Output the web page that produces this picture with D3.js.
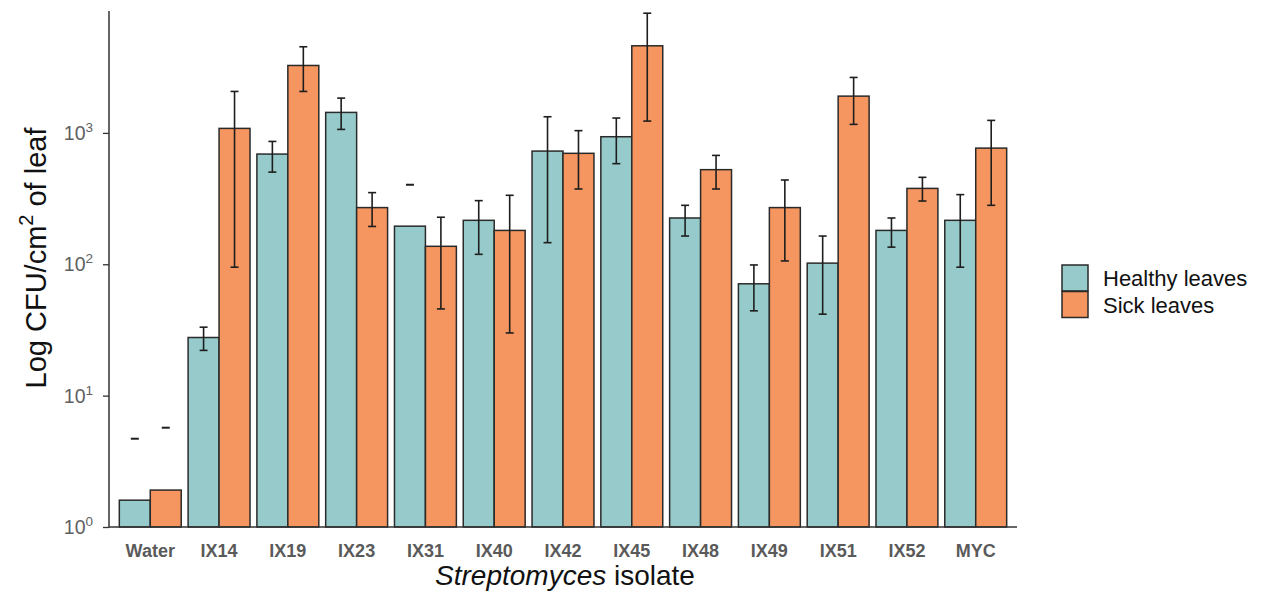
<!DOCTYPE html>
<html>
<head>
<meta charset="utf-8">
<script src="https://cdn.jsdelivr.net/npm/d3@7"></script>
<style>
  html, body { margin: 0; padding: 0; background: #fff; }
  svg { display: block; font-family: "Liberation Sans", Arial, sans-serif; }
</style>
</head>
<body>
<svg id="chart" width="1261" height="592"></svg>
<script>
const categories = ["Water","IX14","IX19","IX23","IX31","IX40","IX42","IX45","IX48","IX49","IX51","IX52","MYC"];
const seriesNames = ["Healthy leaves","Sick leaves"];
const healthy     = [1.6, 27.7, 690, 1432, 195, 216, 727, 935, 225, 71, 102, 181, 216];
const healthyLow  = [null, 22.1, 503, 1063, null, 119, 146, 583, 164, 44.2, 41.7, 135, 95];
const healthyHigh = [4.7, 33.2, 861, 1840, 403, 305, 1327, 1297, 281, 98.8, 164, 225, 339];
const sick        = [1.91, 1082, 3260, 270, 137, 181, 699, 4603, 525, 270, 1905, 378, 766];
const sickLow     = [null, 95, 2068, 194, 45.7, 30, 374, 1230, 374, 106, 1161, 303, 281];
const sickHigh    = [5.7, 2068, 4525, 351, 228, 335, 1040, 8150, 674, 438, 2643, 459, 1245];
const yTicks = [1, 10, 100, 1000];
const yTickExponents = ["0", "1", "2", "3"];

(function () {
const colors = ["#97cbcb", "#f5955f"];
const stroke = "#2a2a2a";

const svg = d3.select("#chart");
const pLeft = 109, pRight = 1017, pTop = 11, pBottom = 527;

const x = d3.scaleBand().domain(categories).range([pLeft, pRight]).paddingInner(0).paddingOuter(0.1);
const step = x.step();
const xInner = d3.scaleBand().domain(seriesNames).range([0, step * 0.9]);
const y = d3.scaleLog().domain([1, 8470]).range([pBottom, pTop]);

const rows = [];
categories.forEach((c, i) => {
  rows.push({cat: c, s: 0, v: healthy[i], lo: healthyLow[i], hi: healthyHigh[i]});
  rows.push({cat: c, s: 1, v: sick[i], lo: sickLow[i], hi: sickHigh[i]});
});
const bx = d => x(d.cat) + step * 0.05 + xInner(seriesNames[d.s]);
const bw = xInner.bandwidth();

// bars
svg.append("g").selectAll("rect").data(rows).join("rect")
  .attr("x", d => bx(d))
  .attr("y", d => y(d.v))
  .attr("width", bw)
  .attr("height", d => y(1) - y(d.v))
  .attr("fill", d => colors[d.s])
  .attr("stroke", stroke)
  .attr("stroke-width", 1.5);

// error bars
const capW = 8;
const eg = svg.append("g").attr("stroke", "#1e1e1e").attr("stroke-width", 1.6);
rows.forEach(d => {
  const cx = bx(d) + bw / 2;
  if (d.lo !== null) {
    eg.append("line").attr("x1", cx).attr("x2", cx).attr("y1", y(d.hi)).attr("y2", y(d.lo));
    eg.append("line").attr("x1", cx - capW/2).attr("x2", cx + capW/2).attr("y1", y(d.lo)).attr("y2", y(d.lo));
    eg.append("line").attr("x1", cx - capW/2).attr("x2", cx + capW/2).attr("y1", y(d.hi)).attr("y2", y(d.hi));
  } else {
    eg.append("line").attr("x1", cx - capW/2).attr("x2", cx + capW/2).attr("y1", y(d.hi)).attr("y2", y(d.hi)).attr("stroke-width", 2);
  }
});

// axes
const axisColor = "#333";
const yAxis = svg.append("g").attr("transform", `translate(${pLeft},0)`)
  .call(d3.axisLeft(y).tickValues(yTicks).tickSize(6).tickFormat(""));
yAxis.select(".domain").remove();
yAxis.selectAll(".tick line").attr("stroke", axisColor).attr("stroke-width", 1.3);
svg.append("line").attr("x1", pLeft).attr("x2", pLeft).attr("y1", pTop).attr("y2", pBottom + 0.5)
  .attr("stroke", axisColor).attr("stroke-width", 1.5);
svg.append("line").attr("x1", pLeft).attr("x2", pRight).attr("y1", pBottom).attr("y2", pBottom)
  .attr("stroke", axisColor).attr("stroke-width", 1.5);

// y tick labels with superscript
yTicks.forEach((t, i) => {
  const txt = svg.append("text")
    .attr("x", pLeft - 16)
    .attr("y", y(t) + 7)
    .attr("text-anchor", "end")
    .attr("fill", "#5f5f5f")
    .attr("font-size", 19.5);
  txt.append("tspan").text("10");
  txt.append("tspan").attr("dy", -8).attr("font-size", 13.5).text(yTickExponents[i]);
});

// x tick labels
svg.append("g").selectAll("text").data(categories).join("text")
  .attr("x", d => x(d) + step / 2)
  .attr("y", 557)
  .attr("text-anchor", "middle")
  .attr("font-weight", "bold")
  .attr("font-size", 18)
  .attr("fill", "#5a5a5a")
  .text(d => d);

// x title
const xt = svg.append("text")
  .attr("x", (pLeft + pRight) / 2 + 2)
  .attr("y", 585)
  .attr("text-anchor", "middle")
  .attr("font-size", 28)
  .attr("fill", "#111");
xt.append("tspan").attr("font-style", "italic").text("Streptomyces");
xt.append("tspan").text(" isolate");

// y title
const yt = svg.append("text")
  .attr("transform", `translate(46, 258) rotate(-90)`)
  .attr("text-anchor", "middle")
  .attr("font-size", 29)
  .attr("fill", "#111");
yt.append("tspan").text("Log CFU/cm");
yt.append("tspan").attr("dy", -13).attr("font-size", 20).text("2");
yt.append("tspan").attr("dy", 13).text(" of leaf");

// legend
const lg = svg.append("g");
seriesNames.forEach((s, i) => {
  lg.append("rect").attr("x", 1062).attr("y", 265 + i * 26.5).attr("width", 26).attr("height", 26)
    .attr("fill", colors[i]).attr("stroke", stroke).attr("stroke-width", 1.5);
  lg.append("text").attr("x", 1103).attr("y", 278 + i * 26.5 + 8)
    .attr("font-size", 22).attr("fill", "#111").text(s);
});
})();
</script>
</body>
</html>
